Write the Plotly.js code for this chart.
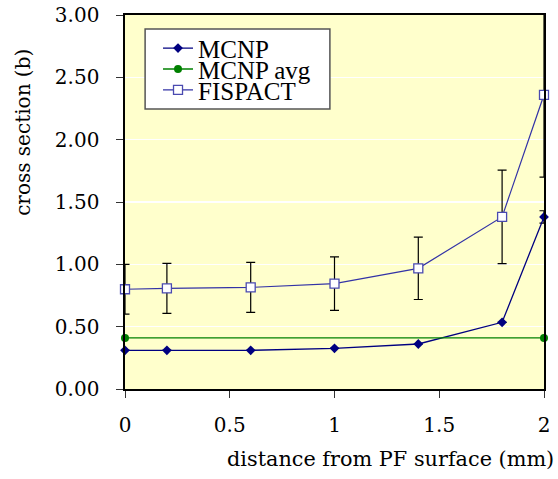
<!DOCTYPE html>
<html>
<head>
<meta charset="utf-8">
<script src="https://cdn.plot.ly/plotly-3.0.1.min.js"></script>
<style>
  html, body { margin: 0; padding: 0; background: #ffffff; }
  #chart { width: 558px; height: 479px; }
</style>
</head>
<body>
<div id="chart"></div>
<script>
// distance from the PF surface (mm)
const distance = [0, 0.2, 0.6, 1.0, 1.4, 1.8, 2.0];

// MCNP cross sections (b) and their uncertainties
const mcnp = [0.31, 0.31, 0.31, 0.326, 0.361, 0.535, 1.38];
const mcnpErr = [0, 0, 0, 0, 0, 0, 0.05];

// MCNP average, drawn across the full depth
const avgDistance = [0, 2.0];
const mcnpAvg = [0.41, 0.41];

// FISPACT cross sections (b) and their uncertainties
const fispact = [0.80, 0.807, 0.815, 0.845, 0.968, 1.38, 2.36];
const fispactErr = [0.2, 0.2, 0.2, 0.215, 0.25, 0.375, 0.66];

const xTicks = [0, 0.5, 1, 1.5, 2];
const xTickText = ['0', '0.5', '1', '1.5', '2'];
const yTicks = [0, 0.5, 1, 1.5, 2, 2.5, 3];
const yTickText = ['0.00', '0.50', '1.00', '1.50', '2.00', '2.50', '3.00'];

const serif = 'DejaVu Serif, Liberation Serif, serif';
const legendFont = { family: 'Liberation Serif, Times New Roman, serif', size: 25, color: '#000000' };

const traces = [
  {
    name: 'MCNP',
    x: distance, y: mcnp,
    type: 'scatter', mode: 'lines+markers',
    line: { color: '#000080', width: 1.3 },
    marker: { symbol: 'diamond', size: 7.5, color: '#000080' },
    error_y: { type: 'data', array: mcnpErr, visible: true, color: '#000000', thickness: 1.2, width: 4.5 },
    cliponaxis: false,
    legend: 'legend'
  },
  {
    name: 'MCNP avg',
    x: avgDistance, y: mcnpAvg,
    type: 'scatter', mode: 'lines+markers',
    line: { color: '#008000', width: 1.3 },
    marker: { symbol: 'circle', size: 8, color: '#008000' },
    cliponaxis: false,
    legend: 'legend2'
  },
  {
    name: 'FISPACT',
    x: distance, y: fispact,
    type: 'scatter', mode: 'lines+markers',
    line: { color: '#3333a6', width: 1.2 },
    marker: { symbol: 'square', size: 9, color: '#ffffff', line: { color: '#4a4ab0', width: 1.3 } },
    error_y: { type: 'data', array: fispactErr, visible: true, color: '#000000', thickness: 1.2, width: 4.5 },
    cliponaxis: false,
    legend: 'legend3'
  }
];

// one legend per entry so the rows can sit tightly inside a single framed box
function legendRow(y) {
  return {
    x: 0.0788, y: y, xanchor: 'left', yanchor: 'middle',
    bgcolor: 'rgba(0,0,0,0)', borderwidth: 0,
    font: legendFont
  };
}

const layout = {
  width: 558, height: 479,
  margin: { l: 125, r: 14, t: 15, b: 90 },
  paper_bgcolor: '#ffffff',
  plot_bgcolor: '#ffffcc',
  showlegend: true,
  legend: legendRow(0.911),
  legend2: legendRow(0.855),
  legend3: legendRow(0.799),
  xaxis: {
    range: [0, 2],
    tickvals: xTicks, ticktext: xTickText,
    ticks: 'outside', ticklen: 7, tickwidth: 1, tickcolor: '#333333',
    ticklabelstandoff: 10,
    showline: true, linecolor: '#000000', linewidth: 1.6, mirror: true,
    showgrid: false, zeroline: false,
    tickfont: { family: serif, size: 20, color: '#000000' }
  },
  yaxis: {
    range: [0, 3],
    tickvals: yTicks, ticktext: yTickText,
    ticks: 'outside', ticklen: 7, tickwidth: 1, tickcolor: '#333333',
    ticklabelstandoff: 13,
    showline: true, linecolor: '#000000', linewidth: 1.6, mirror: true,
    showgrid: true, gridcolor: '#ffffff', gridwidth: 1.2, zeroline: false,
    tickfont: { family: serif, size: 20, color: '#000000' }
  },
  shapes: [
    {
      type: 'rect', xref: 'paper', yref: 'paper', layer: 'above',
      x0: 0.048, x1: 0.489, y0: 0.7487, y1: 0.9626,
      fillcolor: '#ffffff', line: { color: '#555555', width: 1.5 }
    }
  ],
  annotations: [
    {
      text: 'cross section (b)', xref: 'paper', yref: 'paper',
      x: -0.2425, y: 0.686, xanchor: 'center', yanchor: 'middle',
      textangle: -90, showarrow: false,
      font: { family: serif, size: 20, color: '#000000' }
    },
    {
      text: 'distance from PF surface (mm)', xref: 'paper', yref: 'paper',
      x: 1.0286, y: -0.187, xanchor: 'right', yanchor: 'middle',
      showarrow: false,
      font: { family: serif, size: 20.8, color: '#000000' }
    }
  ]
};

Plotly.newPlot('chart', traces, layout, { displayModeBar: false, staticPlot: true });
</script>
</body>
</html>
